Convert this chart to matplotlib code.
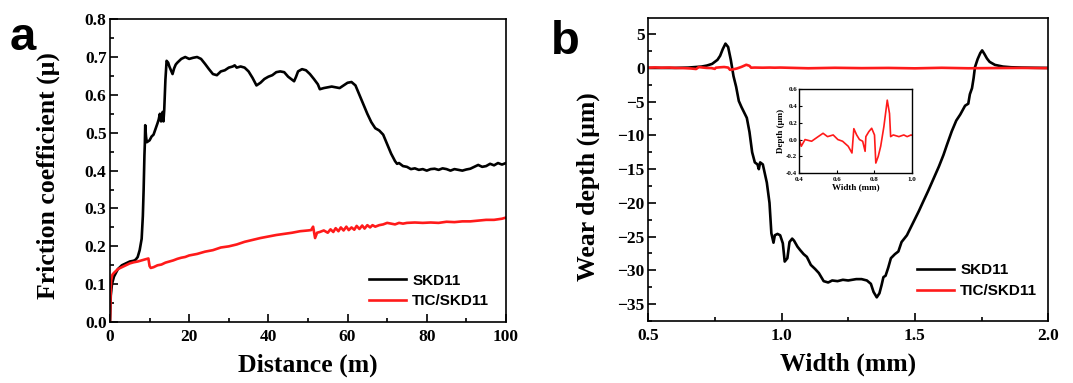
import matplotlib
matplotlib.use("Agg")
import matplotlib.pyplot as plt
from matplotlib.ticker import MultipleLocator

# ---------------- data: panel a (friction coefficient vs distance) ----------------
skd11_a = [(0, 0.0), (0.2, 0.07), (0.5, 0.10), (1, 0.12), (1.5, 0.13), (2, 0.14), (3, 0.15), (4, 0.155),
           (5, 0.16), (6, 0.162), (6.5, 0.165), (7, 0.172), (7.5, 0.19), (8, 0.22), (8.3, 0.28),
           (8.5, 0.35), (8.7, 0.44), (8.8, 0.47), (8.9, 0.52), (9.1, 0.49), (9.3, 0.475), (10, 0.48),
           (10.5, 0.49), (11, 0.495), (11.5, 0.51), (12, 0.525), (12.3, 0.535), (12.6, 0.55),
           (12.9, 0.53), (13.1, 0.545), (13.3, 0.555), (13.5, 0.53), (13.7, 0.56), (14, 0.64),
           (14.3, 0.69), (14.7, 0.685), (15, 0.675), (15.4, 0.665), (15.8, 0.655), (16.2, 0.67),
           (16.6, 0.68), (17, 0.685), (18, 0.695), (19, 0.70), (20, 0.695), (21, 0.698), (22, 0.70),
           (23, 0.695), (24, 0.682), (25, 0.668), (26, 0.655), (27, 0.652), (28, 0.662), (29, 0.665),
           (30, 0.672), (31, 0.675), (31.5, 0.678), (32, 0.672), (33, 0.675), (34, 0.672), (35, 0.662),
           (36, 0.645), (37, 0.625), (38, 0.632), (39, 0.642), (40, 0.648), (41, 0.652), (42, 0.66),
           (43, 0.662), (44, 0.66), (45, 0.648), (46, 0.640), (46.5, 0.636), (47, 0.648), (47.5, 0.662),
           (48.5, 0.668), (49.5, 0.665), (50.5, 0.655), (51.5, 0.642), (52.5, 0.628), (53, 0.615),
           (54, 0.618), (55, 0.62), (56, 0.622), (57, 0.62), (58, 0.618), (59, 0.625), (60, 0.632),
           (61, 0.634), (62, 0.625), (63, 0.60), (64, 0.575), (65, 0.55), (66, 0.528), (67, 0.512),
           (68, 0.506), (69, 0.495), (70, 0.47), (71, 0.445), (72, 0.425), (72.5, 0.418), (73, 0.42),
           (74, 0.412), (75, 0.41), (76, 0.404), (77, 0.406), (78, 0.402), (79, 0.404), (80, 0.400),
           (81, 0.404), (82, 0.405), (83, 0.402), (84, 0.406), (85, 0.404), (86, 0.40), (87, 0.404),
           (88, 0.402), (89, 0.40), (90, 0.403), (91, 0.405), (92, 0.41), (93, 0.415), (94, 0.41),
           (95, 0.412), (96, 0.418), (97, 0.414), (98, 0.42), (99, 0.416), (100, 0.42)]

tic_a = [(0, 0.0), (0.15, 0.07), (0.3, 0.11), (0.6, 0.125), (1.0, 0.13), (2, 0.14), (3, 0.145),
         (4, 0.15), (5, 0.155), (6, 0.158), (7, 0.16), (8, 0.163), (9, 0.166), (9.7, 0.168),
         (10.0, 0.148), (10.3, 0.143), (11, 0.145), (12, 0.15), (13, 0.152), (14, 0.157), (15, 0.16),
         (16, 0.163), (17, 0.167), (18, 0.17), (19, 0.172), (20, 0.176), (22, 0.18), (24, 0.186),
         (26, 0.19), (28, 0.197), (30, 0.20), (32, 0.205), (34, 0.212), (36, 0.217), (38, 0.222),
         (40, 0.226), (42, 0.23), (44, 0.233), (46, 0.236), (48, 0.24), (50, 0.242), (50.8, 0.243),
         (51.3, 0.252), (51.8, 0.222), (52.3, 0.236), (53, 0.238), (54, 0.242), (55, 0.236),
         (55.7, 0.245), (56.4, 0.238), (57, 0.248), (57.7, 0.24), (58.3, 0.25), (59, 0.242),
         (59.7, 0.252), (60.3, 0.243), (61, 0.25), (61.7, 0.244), (62.3, 0.254), (63, 0.246),
         (63.7, 0.255), (64.3, 0.247), (65, 0.256), (65.7, 0.25), (66.3, 0.256), (67, 0.252),
         (68, 0.256), (69, 0.258), (70, 0.262), (71, 0.26), (72, 0.258), (73, 0.262), (74, 0.26),
         (75, 0.262), (77, 0.263), (79, 0.262), (81, 0.263), (83, 0.262), (85, 0.265), (87, 0.264),
         (89, 0.266), (91, 0.266), (93, 0.268), (95, 0.27), (97, 0.27), (99, 0.273), (100, 0.276)]

# ---------------- data: panel b (wear depth vs width) ----------------
skd11_b = [(0.50, 0.0), (0.60, 0.0), (0.65, 0.05), (0.70, 0.2), (0.72, 0.35), (0.74, 0.6), (0.76, 1.2),
           (0.77, 1.8), (0.78, 2.8), (0.79, 3.6), (0.80, 3.1), (0.81, 1.2), (0.82, -1.2), (0.83, -2.8),
           (0.84, -4.9), (0.85, -5.8), (0.86, -6.6), (0.87, -7.4), (0.88, -9.5), (0.89, -12.5),
           (0.90, -14.0), (0.91, -14.3), (0.915, -15.0), (0.92, -14.0), (0.93, -14.3), (0.935, -15.2),
           (0.945, -17.0), (0.955, -20.0), (0.962, -24.5), (0.97, -25.9), (0.975, -24.8),
           (0.985, -24.6), (0.995, -24.8), (1.005, -26.0), (1.012, -28.7), (1.022, -28.2),
           (1.03, -25.8), (1.04, -25.3), (1.047, -25.6), (1.06, -26.5), (1.07, -27.0), (1.083, -27.6),
           (1.095, -28.0), (1.11, -29.2), (1.126, -29.8), (1.14, -30.4), (1.158, -31.6),
           (1.175, -31.8), (1.19, -31.5), (1.21, -31.6), (1.23, -31.4), (1.25, -31.5), (1.28, -31.3),
           (1.30, -31.3), (1.32, -31.5), (1.335, -32.0), (1.345, -33.2), (1.357, -34.0),
           (1.367, -33.4), (1.375, -32.2), (1.382, -31.0), (1.39, -30.8), (1.40, -29.6),
           (1.41, -28.2), (1.425, -27.6), (1.438, -27.2), (1.45, -25.8), (1.47, -24.8), (1.50, -22.4),
           (1.515, -21.2), (1.53, -19.9), (1.55, -18.2), (1.57, -16.4), (1.59, -14.6), (1.607, -12.9),
           (1.62, -11.4), (1.638, -9.4), (1.655, -7.8), (1.67, -6.9), (1.688, -5.6), (1.70, -5.3),
           (1.706, -3.9), (1.714, -3.0), (1.72, -1.5), (1.725, 0.1), (1.735, 1.3), (1.745, 2.2),
           (1.752, 2.6), (1.76, 2.1), (1.77, 1.4), (1.78, 0.9), (1.80, 0.45), (1.83, 0.2),
           (1.86, 0.1), (1.90, 0.05), (1.95, 0.02), (2.00, 0.0)]

tic_b = [(0.40, 0.0), (0.41, -0.08), (0.43, 0.0), (0.465, -0.02), (0.50, 0.035), (0.526, 0.075),
         (0.55, 0.035), (0.58, 0.055), (0.605, 0.0), (0.63, -0.02), (0.66, -0.08), (0.68, -0.16),
         (0.69, 0.13), (0.705, 0.055), (0.72, 0.0), (0.737, -0.02), (0.75, -0.14), (0.754, 0.035),
         (0.77, 0.095), (0.785, 0.135), (0.80, 0.055), (0.807, -0.28), (0.82, -0.2), (0.833, -0.08),
         (0.85, 0.155), (0.868, 0.47), (0.88, 0.31), (0.886, 0.035), (0.90, 0.055), (0.93, 0.035),
         (0.956, 0.055), (0.974, 0.035), (0.995, 0.055), (1.05, 0.0), (1.10, -0.05), (1.20, 0.02),
         (1.30, -0.03), (1.40, 0.0), (1.50, -0.06), (1.60, 0.02), (1.70, -0.05), (1.80, -0.02),
         (1.90, 0.0), (2.00, -0.03)]

skd11_a_x, skd11_a_y = zip(*skd11_a)
tic_a_x, tic_a_y = zip(*tic_a)
skd11_b_x, skd11_b_y = zip(*skd11_b)
tic_b_x, tic_b_y = zip(*tic_b)

labels = ["SKD11", "TIC/SKD11"]
colors = ["black", "#ff1a1a"]

# ---------------- figure ----------------
serif = "Liberation Serif"
sans = "Liberation Sans"
fig = plt.figure(figsize=(10.73, 3.83), dpi=100)

def style_axes(ax, tick_size=12.5, width=1.2):
    for s in ax.spines.values():
        s.set_linewidth(width)
    ax.tick_params(which="both", direction="in", width=width, top=False, right=False)
    ax.tick_params(which="major", length=6, labelsize=tick_size)
    ax.tick_params(which="minor", length=3)
    ax.tick_params(axis="x", which="major", pad=5)
    ax.tick_params(axis="y", which="major", pad=2.5)
    for lab in ax.get_xticklabels() + ax.get_yticklabels():
        lab.set_fontfamily(serif)
        lab.set_fontweight("bold")

leg_prop = {"family": sans, "weight": "bold", "size": 11}

# panel a
axa = fig.add_axes([0.1025, 0.159, 0.369, 0.791])
axa.plot(skd11_a_x, skd11_a_y, color=colors[0], lw=1.9, label=labels[0])
axa.plot(tic_a_x, tic_a_y, color=colors[1], lw=1.9, label=labels[1])
axa.set_xlim(0, 100)
axa.set_ylim(0, 0.8)
axa.xaxis.set_major_locator(MultipleLocator(20))
axa.xaxis.set_minor_locator(MultipleLocator(10))
axa.yaxis.set_major_locator(MultipleLocator(0.1))
axa.yaxis.set_minor_locator(MultipleLocator(0.05))
axa.yaxis.set_major_formatter(plt.FuncFormatter(lambda v, p: f"{v:.1f}"))
style_axes(axa)
axa.set_xlabel("Distance (m)", fontfamily=serif, fontweight="bold", fontsize=18.5, labelpad=6)
axa.set_ylabel("Friction coefficient (μ)", fontfamily=serif, fontweight="bold", fontsize=18.5)
axa.yaxis.set_label_coords(-0.126, 0.485)
axa.legend(loc="lower right", bbox_to_anchor=(0.973, 0.026), borderaxespad=0, frameon=False,
           prop=leg_prop, handlelength=2.4, handletextpad=0.4, labelspacing=0.42)
fig.text(0.009, 0.87, "a", fontfamily=sans, fontweight="bold", fontsize=34)

# panel b
axb = fig.add_axes([0.604, 0.162, 0.373, 0.791])
axb.plot(skd11_b_x, skd11_b_y, color=colors[0], lw=1.9, label=labels[0])
axb.plot(tic_b_x, tic_b_y, color=colors[1], lw=1.9, label=labels[1])
axb.set_xlim(0.5, 2.0)
axb.set_ylim(-37.5, 7.4)
axb.xaxis.set_major_locator(MultipleLocator(0.5))
axb.xaxis.set_minor_locator(MultipleLocator(0.25))
axb.yaxis.set_major_locator(MultipleLocator(5))
axb.yaxis.set_minor_locator(MultipleLocator(2.5))
axb.xaxis.set_major_formatter(plt.FuncFormatter(lambda v, p: f"{v:.1f}"))
style_axes(axb)
axb.set_xlabel("Width (mm)", fontfamily=serif, fontweight="bold", fontsize=18.5, labelpad=6)
axb.set_ylabel("Wear depth (μm)", fontfamily=serif, fontweight="bold", fontsize=18.5)
axb.yaxis.set_label_coords(-0.12, 0.442)
axb.legend(loc="lower right", bbox_to_anchor=(0.9875, 0.056), borderaxespad=0, frameon=False,
           prop=leg_prop, handlelength=2.4, handletextpad=0.4, labelspacing=0.42)
fig.text(0.513, 0.86, "b", fontfamily=sans, fontweight="bold", fontsize=34)

# inset
axi = fig.add_axes([0.745, 0.548, 0.105, 0.219])
axi.plot(tic_b_x, tic_b_y, color=colors[1], lw=1.2)
axi.set_xlim(0.4, 1.0)
axi.set_ylim(-0.4, 0.6)
axi.xaxis.set_major_locator(MultipleLocator(0.2))
axi.xaxis.set_minor_locator(MultipleLocator(0.1))
axi.yaxis.set_major_locator(MultipleLocator(0.2))
axi.yaxis.set_minor_locator(MultipleLocator(0.1))
axi.xaxis.set_major_formatter(plt.FuncFormatter(lambda v, p: f"{v:.1f}"))
axi.yaxis.set_major_formatter(plt.FuncFormatter(lambda v, p: f"{v:.1f}"))
for s in axi.spines.values():
    s.set_linewidth(1.0)
axi.tick_params(which="both", direction="in", width=0.8, labelsize=5)
axi.tick_params(axis="x", which="major", length=2.5, pad=2.5)
axi.tick_params(axis="y", which="major", length=2.5, pad=1.5)
axi.tick_params(which="minor", length=0)
for lab in axi.get_xticklabels() + axi.get_yticklabels():
    lab.set_fontfamily(serif)
    lab.set_fontweight("bold")
axi.set_xlabel("Width (mm)", fontfamily=serif, fontweight="bold", fontsize=6.5, labelpad=1)
axi.set_ylabel("Depth (μm)", fontfamily=serif, fontweight="bold", fontsize=6.5, labelpad=1)

fig.savefig("out.png", dpi=100)
